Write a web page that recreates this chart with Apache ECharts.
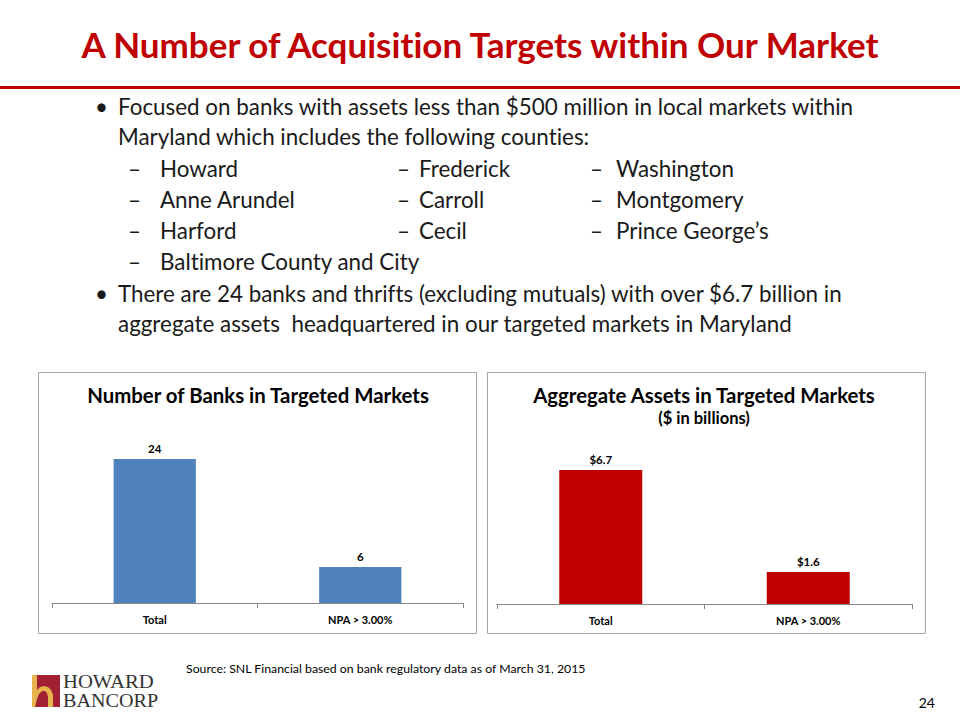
<!DOCTYPE html>
<html>
<head>
<meta charset="utf-8">
<script src="https://cdn.jsdelivr.net/npm/echarts@6/dist/echarts.min.js"></script>
<style>
html,body{margin:0;padding:0;background:#fff;}
#main{width:960px;height:720px;}
#main text, #main tspan{font-variant-ligatures:none !important;font-feature-settings:"liga" 0,"clig" 0 !important;}
</style>
</head>
<body>
<div id="main"></div>
<script>
// ---- data ----
const categories = ['Total', 'NPA > 3.00%'];
const bankCounts = [24, 6];
const aggregateAssets = [6.7, 1.6];
const pageTitle = 'A Number of Acquisition Targets within Our Market';
const bullet1 = ['Focused on banks with assets less than $500 million in local markets within',
                 'Maryland which includes the following counties:'];
const countiesCol1 = ['Howard', 'Anne Arundel', 'Harford', 'Baltimore County and City'];
const countiesCol2 = ['Frederick', 'Carroll', 'Cecil'];
const countiesCol3 = ['Washington', 'Montgomery', 'Prince George\u2019s'];
const bullet2 = ['There are 24 banks and thrifts (excluding mutuals) with over $6.7 billion in',
                 'aggregate assets  headquartered in our targeted markets in Maryland'];
const chart1Title = 'Number of Banks in Targeted Markets';
const chart2Title = 'Aggregate Assets in Targeted Markets';
const chart2Sub = '($ in billions)';
const sourceText = 'Source: SNL Financial based on bank regulatory data as of March 31, 2015';
const pageNumber = '24';

const FONT = 'Lato, "Noto Sans", sans-serif';
const TXT = '#1a1a1a';

const chart = echarts.init(document.getElementById('main'), null, {renderer: 'svg'});

function txt(x, y, s, size, opts) {
  opts = opts || {};
  const el = {
    type: 'text', x: x, y: y, silent: true,
    style: {
      text: s, fill: opts.fill || TXT,
      font: (opts.weight || 'normal') + ' ' + size + 'px ' + (opts.family || FONT),
      textAlign: opts.align || 'left', textVerticalAlign: 'middle'
    }
  };
  if (opts.scaleX) el.scaleX = opts.scaleX;
  return el;
}

const g = [];
// title & rule
g.push(txt(480, 44, pageTitle, 35, {weight: 'bold', fill: '#C00000', align: 'center'}));
g.push({type: 'rect', shape: {x: 0, y: 86, width: 960, height: 3}, style: {fill: '#C00000'}, silent: true});
// bullets
const BS = 22.4;
g.push(txt(95, 106, '\u2022', BS));
g.push(txt(118, 106, bullet1[0], BS));
g.push(txt(118, 136, bullet1[1], BS));
const rowsY = [168, 199, 230, 261];
countiesCol1.forEach((c, i) => { g.push(txt(128, rowsY[i], '\u2013', BS)); g.push(txt(160, rowsY[i], c, BS)); });
countiesCol2.forEach((c, i) => { g.push(txt(397, rowsY[i], '\u2013', BS)); g.push(txt(419, rowsY[i], c, BS)); });
countiesCol3.forEach((c, i) => { g.push(txt(590, rowsY[i], '\u2013', BS)); g.push(txt(616, rowsY[i], c, BS)); });
g.push(txt(95, 293, '\u2022', BS));
g.push(txt(118, 293, bullet2[0], BS));
g.push(txt(118, 323, bullet2[1], BS));
// chart boxes
g.push({type: 'rect', shape: {x: 38.5, y: 372.5, width: 438, height: 261}, style: {fill: 'none', stroke: '#A6A6A6', lineWidth: 1}, silent: true});
g.push({type: 'rect', shape: {x: 487.5, y: 372.5, width: 438, height: 261}, style: {fill: 'none', stroke: '#A6A6A6', lineWidth: 1}, silent: true});
g.push(txt(258, 395, chart1Title, 20.4, {weight: 'bold', align: 'center', fill: '#000'}));
g.push(txt(704, 395, chart2Title, 20.4, {weight: 'bold', align: 'center', fill: '#000'}));
g.push(txt(704, 418, chart2Sub, 16.5, {weight: 'bold', align: 'center', fill: '#000'}));
// source & page number
g.push(txt(186, 668, sourceText, 12.3, {fill: '#000'}));
g.push(txt(935, 702, pageNumber, 14, {fill: '#000', align: 'right'}));
// logo
g.push({type: 'rect', shape: {x: 32, y: 675, width: 28, height: 32}, style: {fill: '#A31F34'}, silent: true});
g.push({type: 'polygon', silent: true, shape: {points: [
  [32, 675], [37, 675], [37, 690], [40, 687], [44, 686], [48, 687], [51, 690], [53, 695], [53, 707],
  [48, 707], [48, 697], [47, 693], [45, 691], [42, 691], [39, 694], [37, 699], [35, 707], [32, 707]
]}, style: {fill: '#E7B34E'}});
g.push(txt(63, 682, 'HOWARD', 18, {family: '"Liberation Serif", serif', fill: '#333', scaleX: 1.15}));
g.push(txt(63, 701, 'BANCORP', 18, {family: '"Liberation Serif", serif', fill: '#333', scaleX: 1.12}));

const axisCommon = {
  type: 'category', data: categories,
  axisLine: {lineStyle: {color: '#868686', width: 1}},
  axisTick: {show: true, length: 5, lineStyle: {color: '#868686'}},
  axisLabel: {color: '#000', fontSize: 11, fontWeight: 'bold', fontFamily: FONT, margin: 11}
};

const option = {
  animation: false,
  backgroundColor: '#fff',
  graphic: {elements: g},
  grid: [
    {left: 52, right: 497, top: 423, bottom: 117},
    {left: 497, right: 48, top: 444, bottom: 116}
  ],
  xAxis: [
    Object.assign({gridIndex: 0}, axisCommon),
    Object.assign({gridIndex: 1}, axisCommon)
  ],
  yAxis: [
    {type: 'value', gridIndex: 0, min: 0, max: 30, show: false, splitLine: {show: false}},
    {type: 'value', gridIndex: 1, min: 0, max: 8, show: false, splitLine: {show: false}}
  ],
  series: [
    {type: 'bar', xAxisIndex: 0, yAxisIndex: 0, data: bankCounts, barWidth: '40%',
     itemStyle: {color: '#4F81BD'},
     label: {show: true, position: 'top', distance: 5, color: '#000', fontSize: 11.5, fontWeight: 'bold', fontFamily: FONT}},
    {type: 'bar', xAxisIndex: 1, yAxisIndex: 1, data: aggregateAssets, barWidth: '40%',
     itemStyle: {color: '#C00000'},
     label: {show: true, position: 'top', distance: 5, color: '#000', fontSize: 11.5, fontWeight: 'bold', fontFamily: FONT,
             formatter: p => '$' + p.value.toFixed(1)}}
  ]
};
chart.setOption(option);
</script>
</body>
</html>
